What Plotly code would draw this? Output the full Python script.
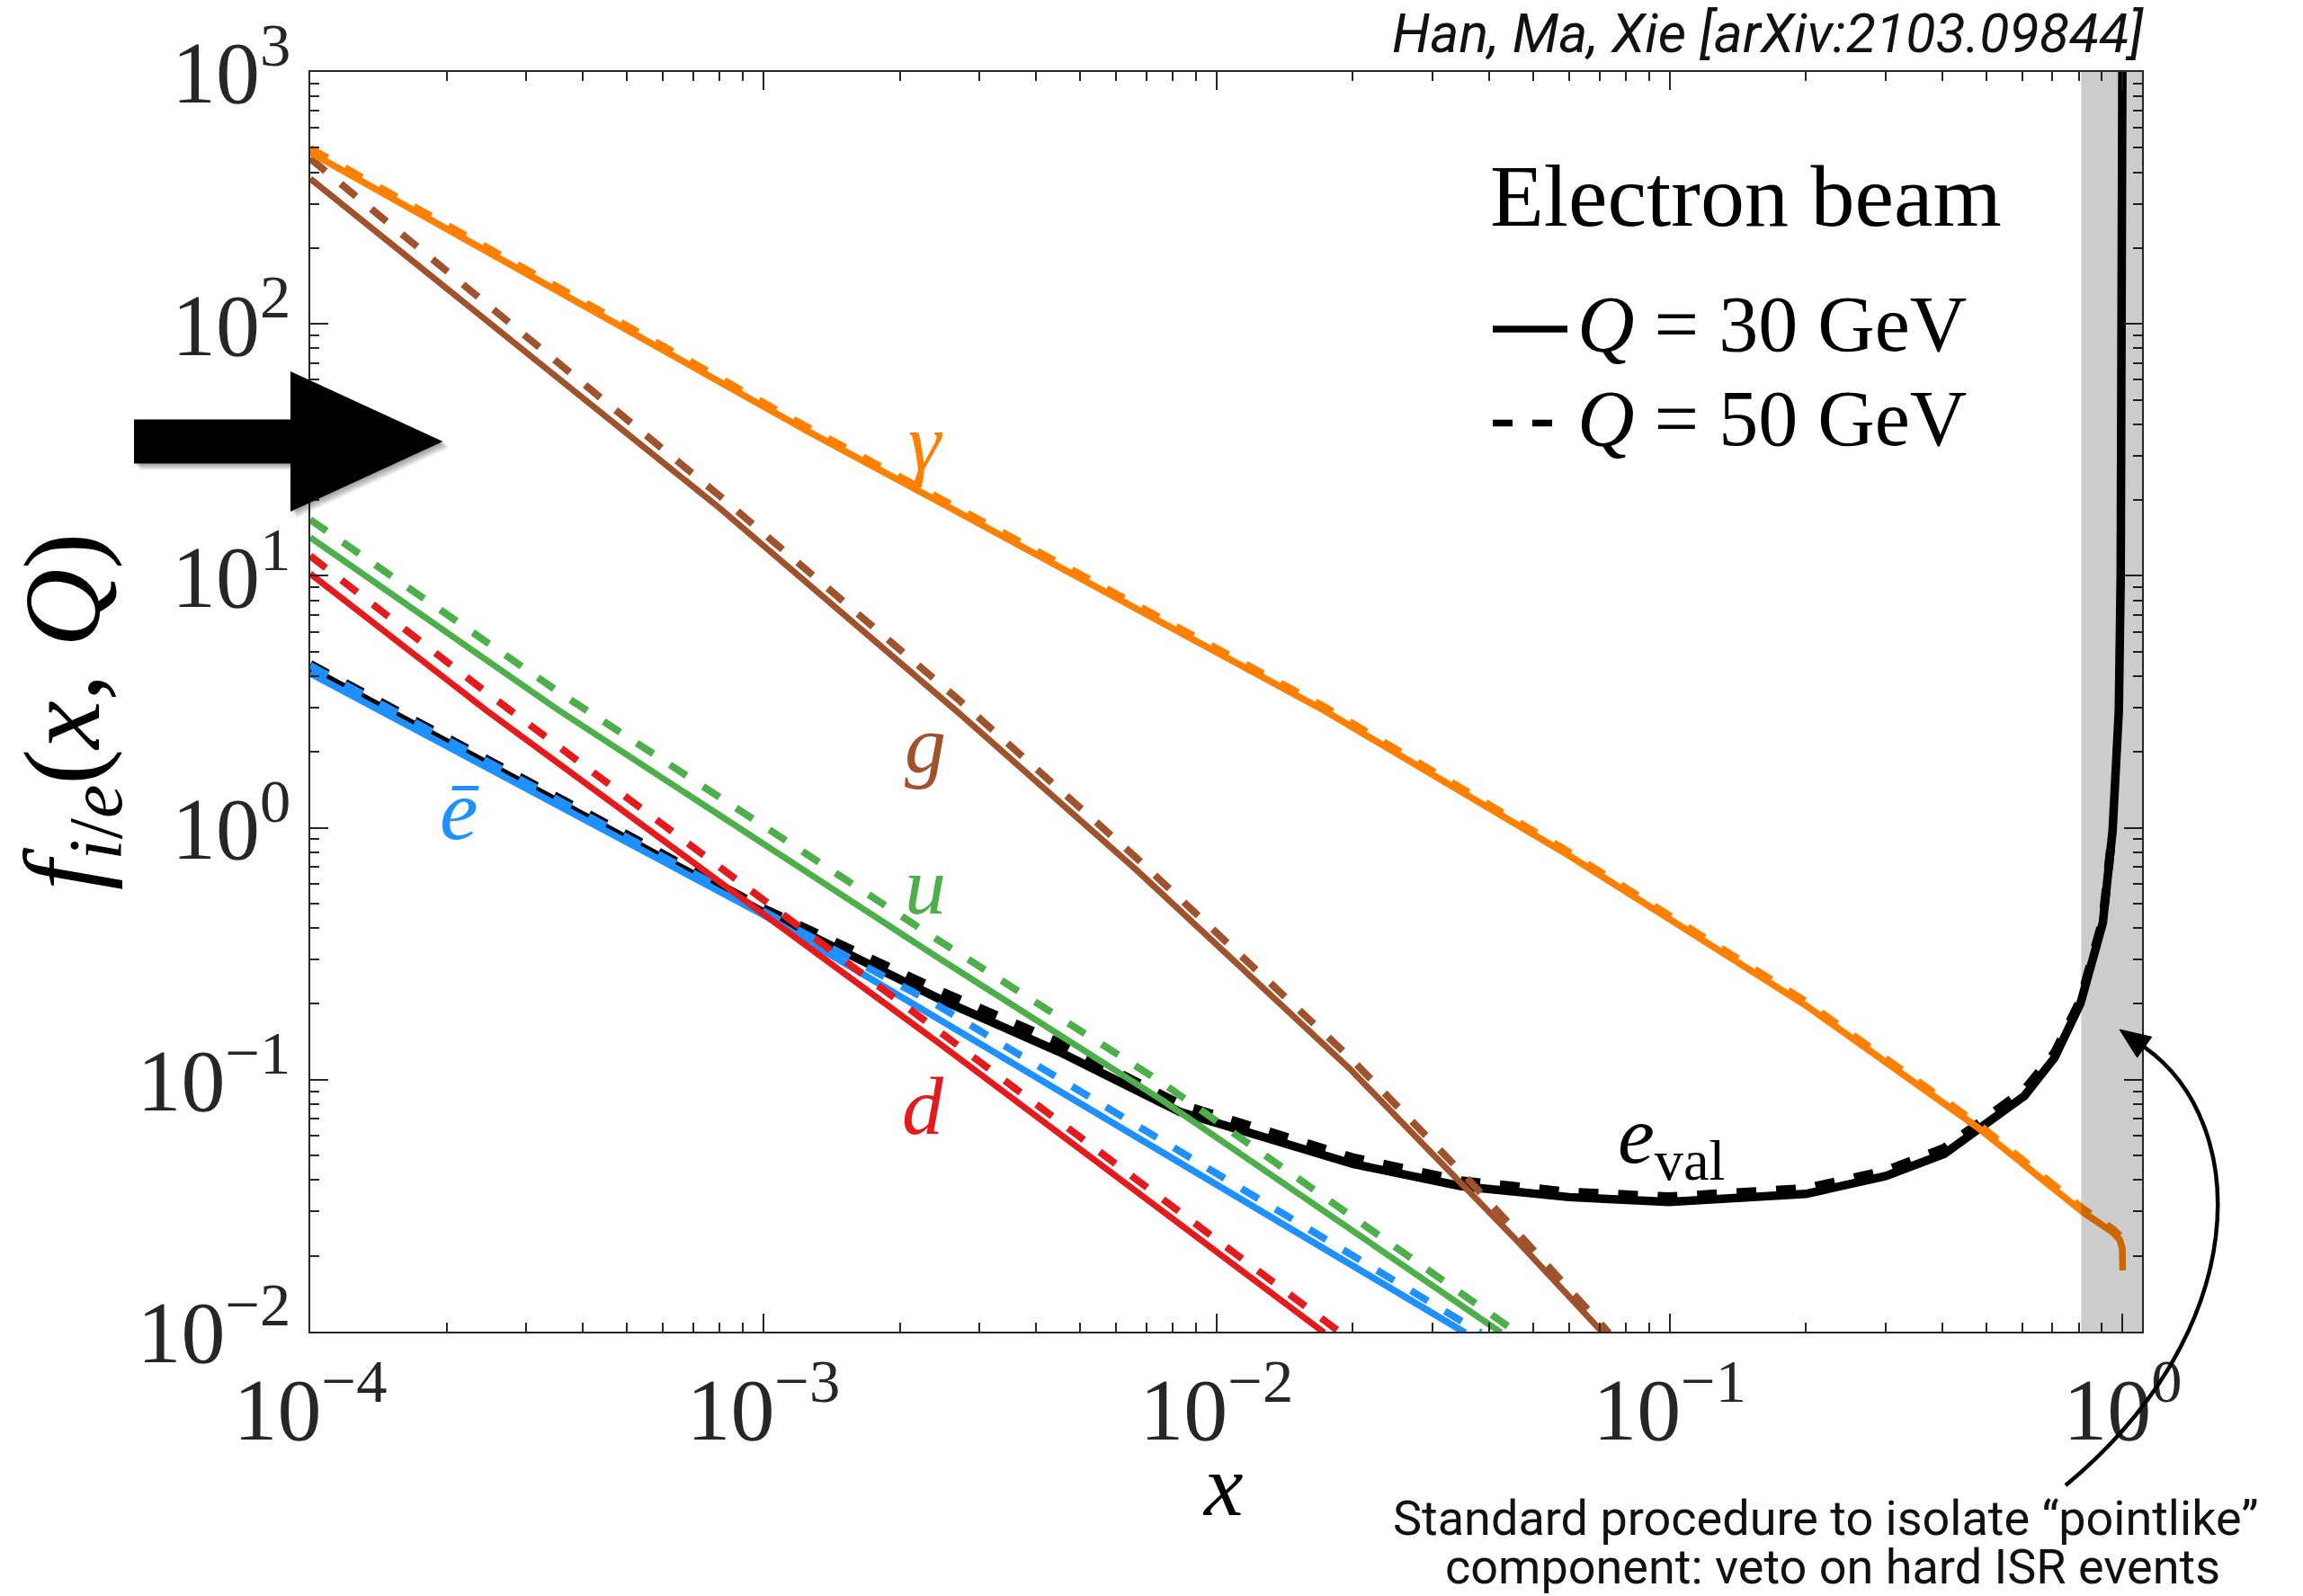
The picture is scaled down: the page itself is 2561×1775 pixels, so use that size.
import math
import plotly.graph_objects as go

# ---------------- data ----------------
GAMMA_X_30 = [1e-4, 1.26e-3, 2.45e-3, 0.0173, 0.06, 0.2, 0.48, 0.815, 0.95, 0.985, 0.998, 1.0]
GAMMA_Y_30 = [479, 37.3, 19.6, 2.92, 0.776, 0.197, 0.0644, 0.0299, 0.0248, 0.0232, 0.0214, 0.0175]
GAMMA_X_50 = [1e-4, 1.26e-3, 2.45e-3, 0.0173, 0.06, 0.2, 0.48, 0.815, 0.95, 0.985]
GAMMA_Y_50 = [497, 38.6, 20.3, 3.02, 0.80, 0.204, 0.0666, 0.0309, 0.0256, 0.0240]

G_X_30 = [1e-4, 8.0e-4, 2.72e-3, 6.67e-3, 0.0196, 0.034, 0.0461, 0.06, 0.0713]
G_Y_30 = [377, 18.6, 2.82, 0.678, 0.1114, 0.0407, 0.0229, 0.0138, 0.00989]
G_X_50 = [1e-4, 8.0e-4, 2.72e-3, 6.67e-3, 0.0196, 0.034, 0.0461, 0.06, 0.0735]
G_Y_50 = [453, 20.8, 3.18, 0.757, 0.1236, 0.0447, 0.0248, 0.0148, 0.00989]

U_X_30 = [1e-4, 3.54e-4, 2.45e-3, 7.6e-3, 0.0425]
U_Y_30 = [14.2, 2.92, 0.302, 0.0828, 0.0099]
U_X_50 = [1e-4, 3.54e-4, 2.45e-3, 7.6e-3, 0.0461]
U_Y_50 = [16.7, 3.45, 0.355, 0.097, 0.0099]

D_X_30 = [1e-4, 2.45e-4, 2.45e-3, 0.0173]
D_Y_30 = [10.2, 2.92, 0.139, 0.0099]
D_X_50 = [1e-4, 2.45e-4, 2.45e-3, 0.0188]
D_Y_50 = [12.0, 3.44, 0.155, 0.0099]

EB_X_30 = [1e-4, 1e-3, 2.45e-3, 0.0354]
EB_Y_30 = [4.1, 0.451, 0.173, 0.0099]
EB_X_50 = [1e-4, 1e-3, 2.45e-3, 0.0383]
EB_Y_50 = [4.4, 0.468, 0.195, 0.0099]

EV_X_30 = [1e-4, 1e-3, 2.45e-3, 4.5e-3, 8.3e-3, 0.02, 0.0347, 0.06, 0.0998, 0.2, 0.3, 0.404,
           0.607, 0.708, 0.807, 0.904, 0.95, 0.9806, 0.99, 0.996, 0.9995]
EV_Y_30 = [4.25, 0.462, 0.209, 0.129, 0.0746, 0.0463, 0.0378, 0.0342, 0.0327, 0.0352, 0.0415, 0.0508,
           0.0863, 0.1225, 0.201, 0.419, 0.973, 2.92, 10, 100, 2000]
EV_X_50 = [1e-4, 1e-3, 2.45e-3, 4.5e-3, 8.3e-3, 0.02, 0.0347, 0.06, 0.0998, 0.2, 0.3, 0.404,
           0.607, 0.708, 0.807, 0.904, 0.95]
EV_Y_50 = [4.45, 0.478, 0.225, 0.14, 0.080, 0.049, 0.0397, 0.0358, 0.0343, 0.0370, 0.0435, 0.0535,
           0.091, 0.128, 0.207, 0.43, 0.98]

X_TICKS = [1e-4, 1e-3, 1e-2, 1e-1, 1e0]
X_TICK_TEXT = ["10<sup>\u22124</sup>", "10<sup>\u22123</sup>", "10<sup>\u22122</sup>", "10<sup>\u22121</sup>", "10<sup>0</sup>"]
Y_TICKS = [1e-2, 1e-1, 1e0, 1e1, 1e2, 1e3]
Y_TICK_TEXT = ["10<sup>\u22122</sup>", "10<sup>\u22121</sup>", "10<sup>0</sup>", "10<sup>1</sup>", "10<sup>2</sup>", "10<sup>3</sup>"]
VETO_X_MIN = 0.81

# ---------------- styling ----------------
OFF = 8                      # page body margin of the browser
W, H = 2561 - OFF, 1775 - OFF
L, T, PW, PH = 345, 80, 2037, 1401   # plot area in reference pixels
XR = [-4, 0.0427]
YR = [-2, 3]
SERIF = "Liberation Serif"
SANS = "Roboto, Open Sans, sans-serif"
AX = "#262626"

C_GAMMA = "#FF8000"
C_G = "#A0522D"
C_U = "#4DAF4A"
C_D = "#E41A1C"
C_EB = "#1E90FF"
C_EV = "#000000"
DASH = "22px,22px"


def px(x):
    return (x - L) / PW


def py(y):
    return 1 - (y - T) / PH


def lx(v):
    return (math.log10(v) - XR[0]) / (XR[1] - XR[0])


fig = go.Figure()


def add(xs, ys, color, width, dash=None):
    fig.add_trace(go.Scatter(x=xs, y=ys, mode="lines", showlegend=False, hoverinfo="skip",
                             line=dict(color=color, width=width, dash=dash or "solid")))


add(EV_X_30, EV_Y_30, C_EV, 9.5)
add(EV_X_50, EV_Y_50, C_EV, 10, DASH)
add(EB_X_30, EB_Y_30, C_EB, 7.5)
add(EB_X_50, EB_Y_50, C_EB, 8, DASH)
add(D_X_30, D_Y_30, C_D, 7)
add(D_X_50, D_Y_50, C_D, 8, DASH)
add(U_X_30, U_Y_30, C_U, 7)
add(U_X_50, U_Y_50, C_U, 8, DASH)
add(G_X_30, G_Y_30, C_G, 7)
add(G_X_50, G_Y_50, C_G, 8, DASH)
add(GAMMA_X_30, GAMMA_Y_30, C_GAMMA, 7.5)
add(GAMMA_X_50, GAMMA_Y_50, C_GAMMA, 8, DASH)

minor_x = [m * 10 ** e for e in range(-4, 0) for m in range(2, 10)]
minor_y = [m * 10 ** e for e in range(-2, 3) for m in range(2, 10)]

axis_common = dict(type="log", showgrid=False, zeroline=False, showline=True, linecolor=AX,
                   linewidth=2, mirror="allticks", ticks="inside", ticklen=20, tickwidth=1.5,
                   tickcolor=AX, tickfont=dict(family=SERIF, size=98, color=AX))

fig.update_layout(
    width=W, height=H, paper_bgcolor="white", plot_bgcolor="white",
    margin=dict(l=L - OFF, r=W - (L - OFF) - PW, t=T - OFF, b=H - (T - OFF) - PH, autoexpand=False),
    xaxis=dict(range=XR, tickmode="array", tickvals=X_TICKS, ticktext=X_TICK_TEXT,
               ticklabelstandoff=0,
               minor=dict(tickmode="array", tickvals=minor_x, ticks="inside", ticklen=10,
                          tickwidth=1.5, tickcolor=AX), **axis_common),
    yaxis=dict(range=YR, tickmode="array", tickvals=Y_TICKS, ticktext=Y_TICK_TEXT,
               ticklabelstandoff=0,
               minor=dict(tickmode="array", tickvals=minor_y, ticks="inside", ticklen=10,
                          tickwidth=1.5, tickcolor=AX), **axis_common),
)

shapes = []
# veto band (translucent, drawn over curves)
shapes.append(dict(type="rect", xref="paper", yref="paper", x0=lx(VETO_X_MIN), x1=1, y0=0, y1=1,
                   fillcolor="rgba(0,0,0,0.2)", line=dict(width=0), layer="above"))


def poly(pts):
    return "M " + " L ".join(f"{px(a):.5f},{py(b):.5f}" for a, b in pts) + " Z"


arrow = [(149, 466.5), (323, 466.5), (323, 413), (492.5, 491), (323, 569), (323, 515.6), (149, 515.6)]
for k in range(7, 0, -1):
    sh = [(a + k, b + k) for a, b in arrow]
    shapes.append(dict(type="path", xref="paper", yref="paper", path=poly(sh),
                       fillcolor="rgba(0,0,0,0.06)", line=dict(width=0), layer="above"))
shapes.append(dict(type="path", xref="paper", yref="paper", path=poly(arrow),
                   fillcolor="black", line=dict(width=0), layer="above"))

# curved pointer arrow
P0, P1, P2, TIP = (2297, 1652), (2505, 1480), (2505, 1250), (2357, 1145)
dx, dy = TIP[0] - P2[0], TIP[1] - P2[1]
n = math.hypot(dx, dy)
ux, uy = dx / n, dy / n
hl, hw = 34, 14
base = (TIP[0] - ux * hl, TIP[1] - uy * hl)
pxv, pyv = -uy, ux
c1 = (base[0] + pxv * hw, base[1] + pyv * hw)
c2 = (base[0] - pxv * hw, base[1] - pyv * hw)
curve = (f"M {px(P0[0]):.5f},{py(P0[1]):.5f} C {px(P1[0]):.5f},{py(P1[1]):.5f} "
         f"{px(P2[0]):.5f},{py(P2[1]):.5f} {px(base[0]):.5f},{py(base[1]):.5f}")
shapes.append(dict(type="path", xref="paper", yref="paper", path=curve,
                   line=dict(color="black", width=4.5), layer="above"))
shapes.append(dict(type="path", xref="paper", yref="paper", path=poly([TIP, c1, c2]),
                   fillcolor="black", line=dict(color="black", width=1), layer="above"))

# legend samples
shapes.append(dict(type="line", xref="paper", yref="paper", x0=px(1660), x1=px(1743), y0=py(366), y1=py(366),
                   line=dict(color="black", width=7.5), layer="above"))
for a, b in [(1660, 1682), (1704, 1726)]:
    shapes.append(dict(type="line", xref="paper", yref="paper", x0=px(a), x1=px(b), y0=py(470.5), y1=py(470.5),
                       line=dict(color="black", width=7.5), layer="above"))

fig.update_layout(shapes=shapes)

ann = []


def text(x, y, s, size, color="black", family=SERIF, xanchor="center", yanchor="middle", angle=0, italic=False):
    ann.append(dict(xref="paper", yref="paper", x=px(x), y=py(y), text=s, showarrow=False,
                    xanchor=xanchor, yanchor=yanchor, textangle=angle,
                    font=dict(family=family, size=size, color=color,
                              style="italic" if italic else "normal")))


text(2386, 37, "Han, Ma, Xie [arXiv:2103.09844]", 61, color="#111111", family=SANS, xanchor="right", italic=True)
text(1655, 218, "Electron beam", 98, xanchor="left")
text(1752, 360, "<i>Q</i> = 30 GeV", 88, xanchor="left")
text(1752, 465, "<i>Q</i> = 50 GeV", 88, xanchor="left")

text(1029, 492, "<i>\u03b3</i>", 92, color=C_GAMMA)
text(1029, 828, "<i>g</i>", 92, color=C_G)
text(1029, 985, "<i>u</i>", 92, color=C_U)
text(1026, 1230, "<i>d</i>", 92, color=C_D)
text(511, 900, "<i>\u0113</i>", 96, color=C_EB)
text(1859, 1268, "<i>e</i><sub>val</sub>", 92)

text(1360, 1652, "<i>x</i>", 98)
text(78, 792, "<i>f</i><sub><i>i</i>/<i>e</i></sub>(<i>x</i>, <i>Q</i>)", 120, angle=-90)

text(2030, 1688, "Standard procedure to isolate \u201cpointlike\u201d", 54, color="#111111", family=SANS)
text(2038, 1742, "component: veto on hard ISR events", 54, color="#111111", family=SANS)

fig.update_layout(annotations=ann)

fig.write_html("out.html")
